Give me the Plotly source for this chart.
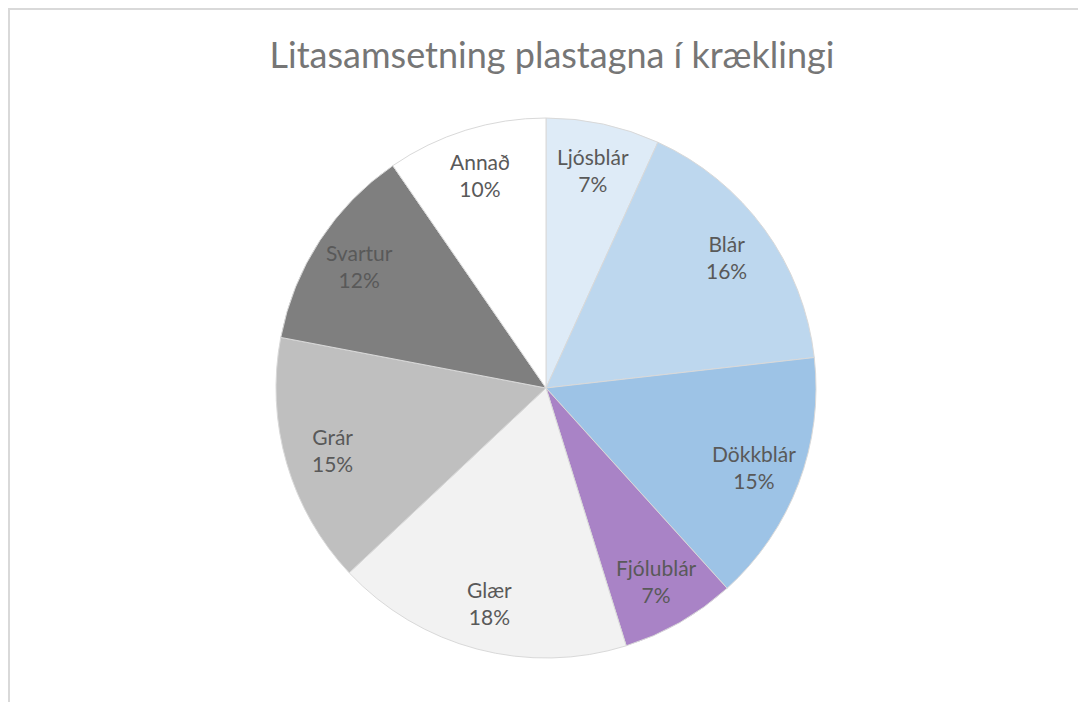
import math
import plotly.graph_objects as go

labels = ["Ljósblár", "Blár", "Dökkblár", "Fjólublár", "Glær", "Grár", "Svartur", "Annað"]
values = [6.8, 16.4, 15.1, 6.9, 17.8, 15.0, 12.4, 9.6]
colors = ["#DEEBF7", "#BDD7EE", "#9DC3E6", "#A983C6", "#F2F2F2", "#BFBFBF", "#7F7F7F", "#FFFFFF"]
title = "Litasamsetning plastagna í kræklingi"

W, H = 1086, 702
cx, cy, R = 538, 380, 270
label_r = 0.825 * R

fig = go.Figure(go.Pie(
    labels=labels, values=values, sort=False, direction="clockwise", rotation=0,
    marker=dict(colors=colors, line=dict(color="#D9D9D9", width=1)),
    textinfo="none",
    hoverinfo="label+percent",
    domain=dict(x=[(cx - R) / W, (cx + R) / W], y=[1 - (cy + R) / H, 1 - (cy - R) / H]),
    showlegend=False,
))

total = sum(values)
annotations = []
cum = 0.0
for lab, v in zip(labels, values):
    mid = (cum + v / 2) / total * 2 * math.pi
    cum += v
    px = cx + label_r * math.sin(mid)
    py = cy - label_r * math.cos(mid)
    annotations.append(dict(
        x=px / W, y=1 - py / H, xref="paper", yref="paper",
        text=f"{lab}<br>{round(v / total * 100)}%", showarrow=False,
        xanchor="center", yanchor="middle", align="center",
        font=dict(family="Lato", size=21, color="#595959"),
    ))

fig.update_layout(
    width=W, height=H,
    margin=dict(l=0, r=0, t=0, b=0),
    paper_bgcolor="white", plot_bgcolor="white",
    title=dict(text=title, x=544 / W, xanchor="center", y=1 - 47 / H, yanchor="middle",
               font=dict(family="Lato", size=36, color="#767676")),
    annotations=annotations,
    shapes=[dict(type="rect", xref="paper", yref="paper",
                 x0=1 / W, x1=1.02, y0=1 - 1 / H, y1=-0.02,
                 line=dict(color="#D9D9D9", width=2), fillcolor="rgba(0,0,0,0)")],
)

fig.write_html("out.html")
